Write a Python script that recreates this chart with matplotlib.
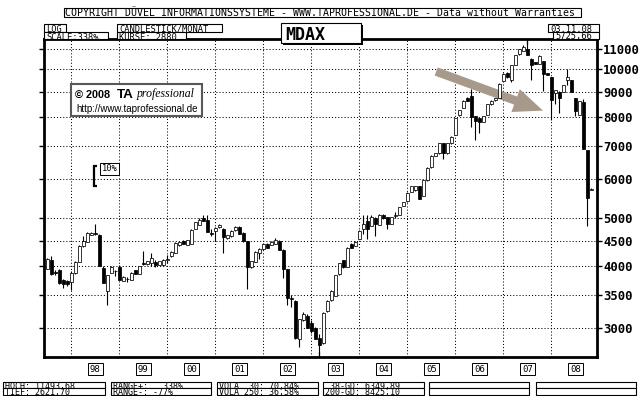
import numpy as np
import pandas as pd
import matplotlib
matplotlib.use("Agg")
import matplotlib.pyplot as plt
from matplotlib.patches import Rectangle
from matplotlib.ticker import NullLocator

# ---------------- DATA (MDAX monthly candles, Jul 1997 - Nov 2008) ----------------
months = pd.period_range("1997-07", "2008-11", freq="M")

opens = [3940, 4110, 3880, 3925, 3740, 3730, 3715, 3875, 4080, 4380, 4480, 4620, 4660, 4620, 3955, 3560,
         3875, 3910, 3985, 3730, 3765, 3745, 3920, 3850, 4050, 4030, 4050, 4080, 4020, 4020, 4120, 4180,
         4250, 4400, 4495, 4410, 4430, 4745, 4845, 5000, 4960, 4660, 4710, 4790, 4745, 4550, 4590, 4720,
         4800, 4670, 4495, 3970, 4080, 4250, 4320, 4430, 4410, 4430, 4495, 4310, 3940, 3440, 3400, 2850,
         3110, 3170, 3060, 3000, 2860, 2790, 3240, 3410, 3480, 3850, 4110, 3980, 4430, 4390, 4540, 4750,
         4930, 4820, 5000, 4840, 5080, 5010, 4870, 5050, 5070, 5290, 5400, 5640, 5690, 5800, 5540, 5960,
         6330, 6670, 6750, 7080, 6750, 7080, 7370, 8055, 8350, 8720, 8830, 8020, 7950, 7810, 8080, 8480,
         8640, 8750, 9450, 9830, 9490, 10210, 10700, 10860, 11000, 10500, 10340, 10250, 10370, 9820, 9640,
         8960, 9000, 8990, 9480, 9510, 8740, 8090, 8580, 6850, 5700]
highs = [4140, 4190, 3920, 3935, 3770, 3750, 3910, 4090, 4400, 4600, 4690, 4680, 4860, 4630, 4000, 3840,
         3990, 3915, 4010, 3810, 3800, 3880, 3925, 4000, 4290, 4100, 4240, 4110, 4100, 4130, 4200, 4290,
         4460, 4480, 4510, 4520, 4740, 4910, 4990, 5070, 5070, 4750, 4790, 4850, 4760, 4620, 4720, 4810,
         4810, 4680, 4500, 4100, 4280, 4350, 4440, 4440, 4490, 4560, 4510, 4320, 3950, 3490, 3410, 3130,
         3220, 3200, 3110, 3010, 2910, 3220, 3410, 3570, 3840, 4060, 4120, 4360, 4440, 4490, 4720, 5066,
         5070, 5060, 5010, 5090, 5090, 5020, 5020, 5130, 5270, 5390, 5630, 5800, 5810, 5810, 5970, 6340,
         6690, 6760, 7080, 7100, 7090, 7310, 7970, 8250, 8640, 8760, 9130, 8030, 7960, 8040, 8510, 8640,
         8750, 9350, 9810, 9840, 10180, 10670, 11000, 11200, 11494, 10510, 10350, 10650, 10380, 9830, 9650,
         9060, 9010, 9280, 10020, 9520, 8750, 8610, 8700, 6860, 5740]
lows = [3935, 3840, 3830, 3680, 3610, 3640, 3580, 3860, 4070, 4370, 4470, 4610, 4620, 3990, 3690, 3340,
        3865, 3820, 3740, 3720, 3710, 3740, 3845, 3845, 4020, 4020, 4000, 3970, 4010, 3990, 4050, 4170,
        4240, 4390, 4420, 4400, 4420, 4740, 4840, 4920, 4680, 4590, 4490, 4780, 4250, 4540, 4580, 4710,
        4630, 4480, 3590, 3960, 4070, 4130, 4310, 4340, 4400, 4420, 4300, 3780, 3330, 3300, 2850, 2745,
        3100, 2990, 2930, 2850, 2650, 2780, 3230, 3400, 3470, 3840, 3960, 3970, 4340, 4380, 4530, 4630,
        4530, 4810, 4590, 4830, 4980, 4740, 4860, 4990, 5060, 5280, 5390, 5630, 5680, 5460, 5530, 5950,
        6320, 6660, 6740, 6570, 6740, 7070, 7360, 8040, 8340, 8600, 7640, 7175, 7410, 7800, 8070, 8470,
        8630, 8740, 9440, 9600, 9400, 10200, 10690, 10850, 10650, 9490, 10230, 10240, 9020, 9730, 7900,
        8510, 8130, 8980, 9300, 8980, 8040, 8080, 6890, 4813, 5690]
closes = [4130, 3850, 3870, 3690, 3680, 3680, 3865, 4075, 4385, 4495, 4660, 4665, 4630, 4000, 3700, 3835,
          3985, 3900, 3745, 3795, 3760, 3870, 3850, 3995, 4030, 4095, 4150, 4020, 4095, 4120, 4130, 4260,
          4450, 4470, 4430, 4510, 4720, 4895, 4950, 4930, 4690, 4650, 4780, 4840, 4580, 4610, 4710, 4800,
          4640, 4495, 3970, 4094, 4270, 4320, 4430, 4350, 4480, 4510, 4310, 3940, 3440, 3430, 2855, 3120,
          3200, 3000, 2960, 2850, 2770, 3210, 3400, 3560, 3835, 4050, 3970, 4350, 4350, 4480, 4710, 4870,
          4750, 5020, 4870, 5080, 4990, 4870, 5010, 5060, 5260, 5380, 5620, 5790, 5800, 5470, 5960, 6310,
          6680, 6750, 7075, 6750, 7080, 7300, 7965, 8245, 8630, 8630, 8000, 7840, 7810, 8030, 8500, 8630,
          8740, 9345, 9750, 9620, 10176, 10660, 10990, 11100, 10660, 10180, 10240, 10640, 9790, 9740, 8650,
          9060, 8750, 9270, 9640, 8990, 8210, 8600, 6900, 5484, 5726]

price_levels = [3000, 3500, 4000, 4500, 5000, 6000, 7000, 8000, 9000, 10000, 11000]
year_labels = ["98", "99", "00", "01", "02", "03", "04", "05", "06", "07", "08"]

header_text = "COPYRIGHT DÜVEL INFORMATIONSSYSTEME - WWW.TAPROFESSIONAL.DE - Data without Warranties"
footer_rows = [["HOCH: 11493,68", "RANGE+:   338%", "VOLA  30: 70,84%", " 38-GD: 6349,89", "", ""],
               ["TIEF: 2621,70", "RANGE-: -77%", "VOLA 250: 36,58%", "200-GD: 8425,10", "", ""]]

# ---------------- LAYOUT ----------------
W, H = 640, 396
MONO = "DejaVu Sans Mono"
ARROW_COLOR = "#A89A8A"


def fx(x):
    return x / W


def fy(y):
    return 1 - y / H


fig = plt.figure(figsize=(W / 100, H / 100), dpi=100)
fig.patch.set_facecolor("white")

# plot frame in pixels (left, top, right, bottom)
L, T, R, B = 44, 39, 597, 356.5
ax = fig.add_axes([fx(L), fy(B), fx(R) - fx(L), fy(T) - fy(B)])

o = np.array(opens, float)
h = np.array(highs, float)
lo = np.array(lows, float)
c = np.array(closes, float)
x = np.arange(len(months))

# candles: wick behind, hollow body for rising months, filled for falling ones
ax.vlines(x, lo, h, color="black", lw=0.8, zorder=3)
body_lo = np.minimum(o, c)
body_hi = np.maximum(o, c)
colors = np.where(c >= o, "white", "black")
ax.bar(x, body_hi - body_lo, bottom=body_lo, width=0.6, color=colors,
       edgecolor="black", linewidth=0.55, zorder=4)

ax.set_yscale("log")
ax.set_ylim(2623, 11500)
ax.set_xlim(-0.83, 137.4)

ax.set_yticks(price_levels)
ax.set_yticklabels([str(v) for v in price_levels])
ax.yaxis.set_minor_locator(NullLocator())
ax.tick_params(axis="y", which="both", left=True, right=True, labelleft=False, labelright=True,
               direction="out", length=3.5, width=1, pad=1)
for lab in ax.get_yticklabels():
    lab.set_fontfamily(MONO)
    lab.set_fontweight("bold")
    lab.set_fontsize(8.8)

jan_idx = [i for i, m in enumerate(months) if m.month == 1]
ax.set_xticks(jan_idx)
ax.set_xticklabels([])
ax.tick_params(axis="x", length=0)
ax.grid(True, color="black", linestyle=(0, (1, 2)), linewidth=0.75)
ax.set_axisbelow(True)
for s in ax.spines.values():
    s.set_linewidth(2)

# marks for high / low month
xt = ax.get_xaxis_transform()
i_hi = int(np.argmax(h))
i_lo = int(np.argmin(lo))
ax.plot([i_hi, i_hi], [1, 1 - 5 / (B - T)], color="black", lw=0.9, transform=xt, clip_on=False)
ax.plot([i_lo, i_lo], [0, 5 / (B - T)], color="black", lw=0.9, transform=xt, clip_on=False)

# year labels centred in each year
for lab, j in zip(year_labels, jan_idx):
    ax.text(j + 6, -(369 - B) / (B - T), lab, transform=xt, ha="center", va="center",
            fontfamily=MONO, fontsize=6.5,
            bbox=dict(boxstyle="square,pad=0.2", fc="white", ec="black", lw=0.7))

# 10% scale bracket
b0 = 5800
ax.plot([12.5, 11.7, 11.7, 12.5], [b0 * 1.1, b0 * 1.1, b0, b0], color="black", lw=1.6,
        solid_capstyle="butt", solid_joinstyle="miter", zorder=5)
ax.text(13.6, b0 * 1.083, "10%", ha="left", va="center", fontfamily=MONO, fontsize=6.3,
        bbox=dict(boxstyle="square,pad=0.15", fc="white", ec="black", lw=0.7), zorder=5)

# trend arrow
ax.annotate("", xy=(123.9, 8240), xytext=(97.2, 9885),
            arrowprops=dict(arrowstyle="simple,head_length=2.1,head_width=1.75,tail_width=0.62",
                            mutation_scale=10, color=ARROW_COLOR, shrinkA=0, shrinkB=0, lw=0),
            zorder=2)


def box(x0, y0, x1, y1, txt="", size=6.3, pad=2, weight="normal", shadow=0, ha="left"):
    if shadow:
        fig.add_artist(Rectangle((fx(x0 + shadow), fy(y1 + shadow)), fx(x1) - fx(x0), fy(y0) - fy(y1),
                                 transform=fig.transFigure, facecolor="black", edgecolor="none"))
    fig.add_artist(Rectangle((fx(x0), fy(y1)), fx(x1) - fx(x0), fy(y0) - fy(y1),
                             transform=fig.transFigure, facecolor="white", edgecolor="black", lw=0.8))
    if txt:
        tx = x0 + pad if ha == "left" else (x0 + x1) / 2
        fig.text(fx(tx), fy((y0 + y1) / 2 + 0.5), txt, ha=ha, va="center_baseline",
                 fontfamily=MONO, fontsize=size, fontweight=weight)


# header
box(63.5, 7.5, 581, 16.5, header_text, size=7.1, pad=1.5)
box(44, 24.5, 66, 31.5, "LOG")
box(44, 32, 108, 39, "SCALE:338%")
box(117, 24.5, 222, 31.5, "CANDLESTICK/MONAT")
box(117, 32, 185.5, 39, "KURSE: 2880")
box(281, 23, 361, 43, "MDAX", size=12, pad=4, weight="bold", shadow=2)
box(547.5, 24.5, 599, 31.5, "03.11.08", pad=3)
box(553, 32, 599, 39, "5725,66", pad=2)

# footer
cols = [(3.3, 105.3), (111, 211.4), (217, 317.6), (323.3, 423.7), (429.4, 529.4), (535.5, 635.5)]
rows = [(381.5, 388), (388, 394.5)]
for r, (ya, yb) in enumerate(rows):
    for (xa, xb), txt in zip(cols, footer_rows[r]):
        box(xa, ya, xb, yb, txt, size=6.0, pad=2)

# logo
fig.add_artist(Rectangle((fx(71), fy(116)), fx(201.5) - fx(71), fy(83.5) - fy(116),
                         transform=fig.transFigure, facecolor="white", edgecolor="#585858", lw=1.5))
fig.text(fx(75), fy(97.5), "© 2008", fontfamily="Liberation Sans", fontweight="bold", fontsize=7.8,
         va="baseline")
fig.text(fx(116.5), fy(97.5), "TA", fontfamily="Liberation Sans", fontweight="bold", fontsize=9.6,
         va="baseline")
fig.text(fx(137), fy(97.5), "professional", fontfamily="Liberation Serif", fontstyle="italic",
         fontsize=8.5, va="baseline")
fig.text(fx(76), fy(111.5), "http://www.taprofessional.de", fontfamily="Liberation Sans",
         fontsize=7.0, va="baseline")

fig.savefig("out.png", dpi=100, facecolor="white")
